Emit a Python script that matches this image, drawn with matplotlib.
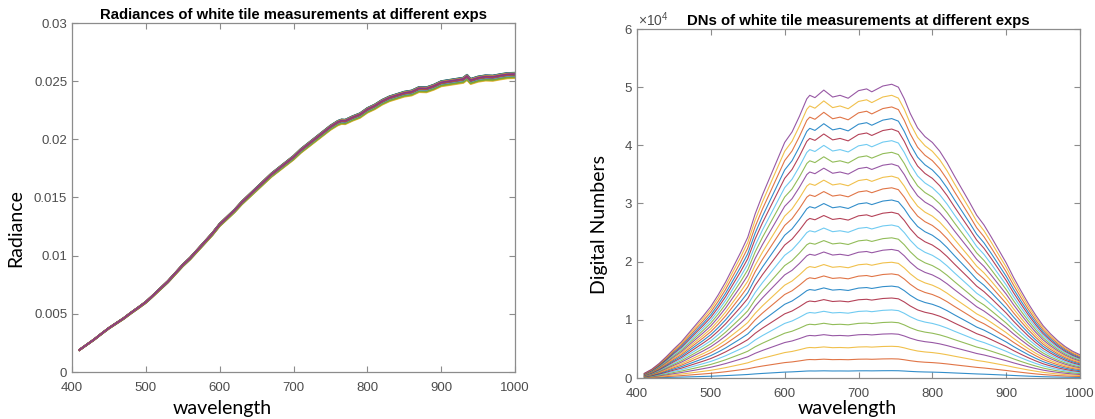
import matplotlib
matplotlib.use("Agg")
import matplotlib.pyplot as plt
import numpy as np

# MATLAB default line colours
matlab_colors = ["#0072BD", "#D95319", "#EDB120", "#7E2F8E",
                 "#77AC30", "#4DBEEE", "#A2142F"]

# --- left panel: radiance ---
rad_wl = [410, 420, 430, 440, 450, 460, 470, 480, 490, 500, 510, 520, 530,
          540, 550, 560, 570, 580, 590, 600, 610, 620, 630, 640, 650, 660,
          670, 680, 690, 700, 710, 720, 730, 740, 750, 760, 765, 770, 780,
          790, 800, 810, 820, 830, 840, 850, 860, 870, 880, 890, 900, 910,
          920, 930, 935, 940, 950, 960, 970, 980, 990, 1000]
radiance = [0.00190, 0.00235, 0.00280, 0.00330, 0.00378, 0.00420, 0.00462,
            0.00510, 0.00555, 0.00602, 0.00660, 0.00720, 0.00780, 0.00850,
            0.00920, 0.00980, 0.01050, 0.01120, 0.01190, 0.01270, 0.01330,
            0.01390, 0.01460, 0.01520, 0.01580, 0.01640, 0.01700, 0.01750,
            0.01800, 0.01850, 0.01910, 0.01960, 0.02010, 0.02060, 0.02110,
            0.02150, 0.02162, 0.02160, 0.02190, 0.02215, 0.02260, 0.02290,
            0.02330, 0.02360, 0.02380, 0.02400, 0.02410, 0.02440, 0.02438,
            0.02460, 0.02490, 0.02500, 0.02510, 0.02520, 0.02545, 0.02510,
            0.02530, 0.02540, 0.02538, 0.02550, 0.02560, 0.02562]
# per-exposure gain of the radiance curves (they nearly overlap)
rad_gain = [0.988, 0.990, 0.986, 0.992, 0.989, 0.995, 0.997, 0.998, 1.000,
            0.999, 1.001, 1.000, 1.002, 1.001, 0.999, 1.003, 1.002, 1.000,
            1.004, 1.001, 1.003, 1.004, 0.998, 1.002, 1.000]

# --- right panel: digital numbers ---
dn_wl = [410, 420, 430, 440, 450, 460, 470, 480, 490, 500, 510, 520, 530,
         540, 550, 560, 570, 580, 590, 600, 610, 620, 630, 634, 641, 653,
         665, 675, 686, 700, 711, 718, 733, 745, 754, 762, 770, 780, 790,
         800, 810, 820, 830, 840, 850, 860, 870, 880, 890, 900, 910, 920,
         930, 940, 950, 960, 970, 980, 990, 1000]
# brightest exposure (top curve), DN
dn_top = [800, 1500, 2500, 3700, 5000, 6200, 7700, 9200, 10700, 12300,
          14300, 16500, 19000, 21500, 24200, 28200, 31500, 34500, 37500,
          40500, 42300, 45000, 48000, 48600, 48200, 49500, 48300, 48600,
          48100, 49400, 49700, 49200, 50200, 50500, 50000, 48000, 45500,
          43000, 41500, 40500, 39000, 37000, 34700, 32500, 30300, 28000,
          26300, 24200, 22000, 19800, 17300, 15000, 12800, 10800, 9000,
          7600, 6400, 5400, 4600, 4000]
# peak DN of each exposure, lowest to highest
dn_peaks = [1260, 3300, 5450, 7600, 9600, 11700, 13750, 15800, 17900, 19900,
            22100, 24100, 26300, 28500, 30600, 32700, 34700, 36800, 38800,
            40800, 42800, 44600, 46600, 48600, 50500]

plt.rcParams["font.family"] = ["Liberation Sans", "DejaVu Sans"]
plt.rcParams["mathtext.fontset"] = "custom"
plt.rcParams["mathtext.rm"] = "Liberation Sans"

fig = plt.figure(figsize=(10.95, 4.19), dpi=100)
ax1 = fig.add_axes([72 / 1095, 47 / 419, 443 / 1095, 349 / 419])
ax2 = fig.add_axes([637 / 1095, 41 / 419, 443 / 1095, 349 / 419])

tick_grey = "#4d4d4d"
frame_grey = "#8c8c8c"

for i, g in enumerate(rad_gain):
    ax1.plot(rad_wl, np.array(radiance) * g,
             color=matlab_colors[i % 7], lw=1.3, alpha=0.9)

shape = np.array(dn_top) / max(dn_top)
for i, p in enumerate(dn_peaks):
    ax2.plot(dn_wl, shape * p, color=matlab_colors[i % 7], lw=0.8, alpha=0.8)

ax1.set_ylim(0, 0.03)
ax1.set_yticks([0, 0.005, 0.01, 0.015, 0.02, 0.025, 0.03])
ax1.set_yticklabels(["0", "0.005", "0.01", "0.015", "0.02", "0.025", "0.03"])
ax2.set_ylim(0, 60000)
ax2.set_yticks(range(0, 60001, 10000))
ax2.set_yticklabels([str(v) for v in range(7)])
ax2.text(0.003, 1.0, r"$\times10^{4}$", transform=ax2.transAxes,
         ha="left", va="bottom", fontsize=10, color=tick_grey)

for ax in (ax1, ax2):
    ax.set_xlim(400, 1000)
    ax.set_xticks(range(400, 1001, 100))
    ax.tick_params(direction="in", length=4, width=0.8, top=True, right=True,
                   colors=frame_grey, labelcolor=tick_grey, labelsize=9.5)
    ax.tick_params(axis="x", pad=7)
    for s in ax.spines.values():
        s.set_color(frame_grey)
        s.set_linewidth(0.9)

ax1.set_title("Radiances of white tile measurements at different exps",
              fontsize=10.7, fontweight="bold", pad=3)
ax2.set_title("DNs of white tile measurements at different exps",
              fontsize=10.7, fontweight="bold", pad=3)

lab = dict(family="Lato", fontsize=14, color="black")
fig.text(222 / 1095, 5 / 419, "wavelength", ha="center", va="baseline", **lab)
fig.text(847 / 1095, 5 / 419, "wavelength", ha="center", va="baseline", **lab)
fig.text(16 / 1095, 1 - 228 / 419, "Radiance", rotation=90,
         ha="center", va="center", **lab)
fig.text(600 / 1095, 1 - 224 / 419, "Digital Numbers", rotation=90,
         ha="center", va="center", **lab)

fig.savefig("out.png", dpi=100)
